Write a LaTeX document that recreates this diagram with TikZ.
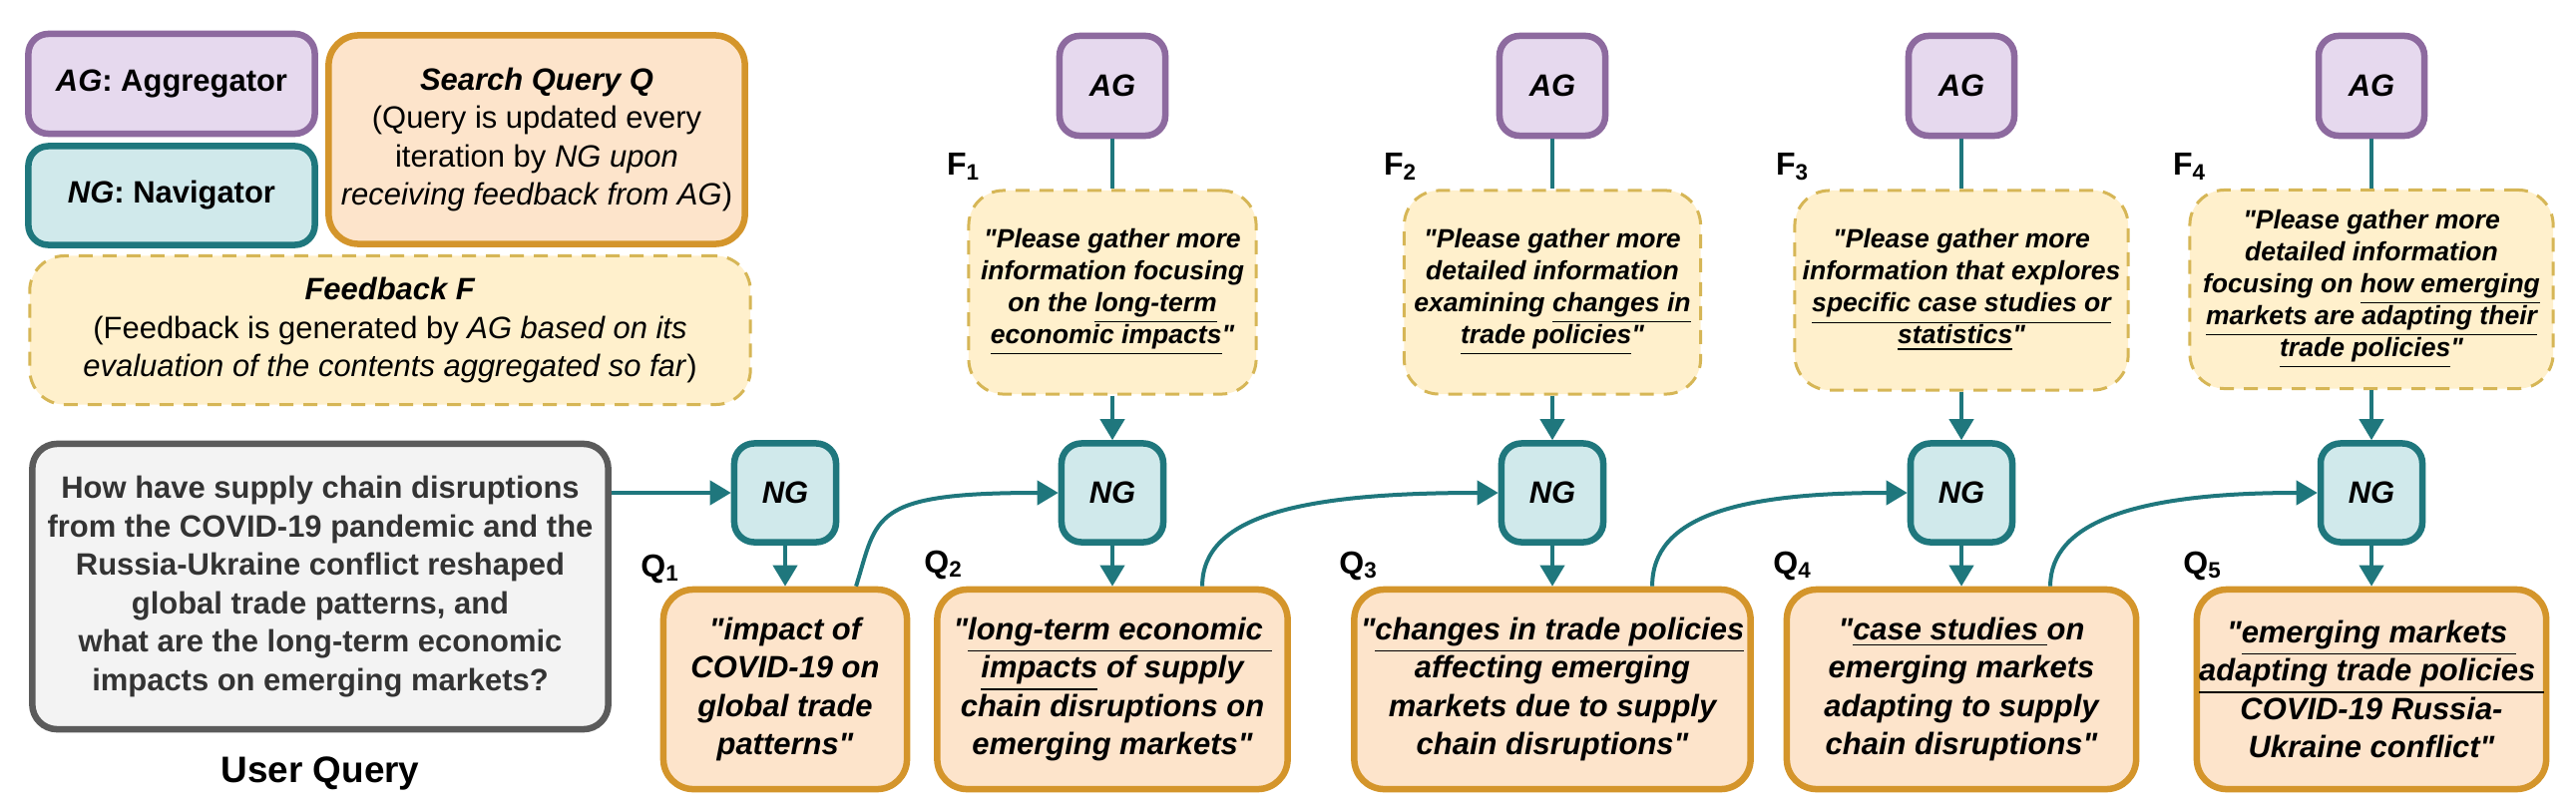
\documentclass[tikz,border=0pt]{standalone}
\usepackage{fontspec}
\setmainfont{Liberation Sans}[Ligatures=TeXOff]
\usetikzlibrary{calc,shapes,arrows.meta}

\definecolor{agfill}{HTML}{E6D9EE}
\definecolor{agdraw}{HTML}{8D6A9F}
\definecolor{ngfill}{HTML}{D0E9EB}
\definecolor{ngdraw}{HTML}{1F777D}
\definecolor{qfill}{HTML}{FDE4CB}
\definecolor{qdraw}{HTML}{D4952B}
\definecolor{ffill}{HTML}{FFF0CC}
\definecolor{fdraw}{HTML}{D6B656}
\definecolor{ufill}{HTML}{F3F3F3}
\definecolor{udraw}{HTML}{5B5B5B}
\definecolor{utext}{HTML}{333333}

\newcommand{\legfont}{\fontsize{8.8pt}{10.95pt}\selectfont}
\newcommand{\qryfont}{\fontsize{8.8pt}{10.95pt}\selectfont\bfseries\itshape}
\newcommand{\fbkfont}{\fontsize{7.55pt}{9.1pt}\selectfont\bfseries\itshape}
\newcommand{\idxfont}{\fontsize{9.1pt}{9.1pt}\selectfont\bfseries}

\begin{document}
\begin{tikzpicture}[x=0.01cm,y=-0.01cm]
	\tikzstyle{aggregator} = [rectangle, draw=agdraw, fill=agfill, line width=0.065cm, rounded corners=0.2cm, text centered, inner sep=0pt, minimum width=1.06cm, minimum height=1.0cm, font=\legfont\bfseries]
	\tikzstyle{navigator} = [rectangle, draw=ngdraw, fill=ngfill, line width=0.065cm, rounded corners=0.2cm, text centered, inner sep=0pt, minimum width=1.02cm, minimum height=0.99cm, font=\legfont\bfseries]
	\tikzstyle{query} = [rectangle, draw=qdraw, fill=qfill, line width=0.065cm, rounded corners=0.3cm, align=center, inner sep=0pt, minimum height=2.0cm, font=\qryfont]
	\tikzstyle{feedback} = [rectangle, draw=fdraw, fill=ffill, line width=0.03cm, dash pattern=on 0.14cm off 0.1cm, rounded corners=0.35cm, align=center, inner sep=0pt, minimum height=2.04cm, font=\fbkfont]
	\tikzstyle{user} = [rectangle, draw=udraw, fill=ufill, text=utext, line width=0.065cm, rounded corners=0.25cm, align=center, inner sep=0pt, minimum width=5.77cm, minimum height=2.86cm, font=\legfont\bfseries]
	\tikzstyle{idx} = [inner sep=0pt, font=\idxfont]
	\tikzstyle{connector} = [draw=ngdraw, line width=0.04cm, -{Triangle[length=0.21cm,width=0.24cm]}]
	\tikzstyle{plainline} = [draw=ngdraw, line width=0.04cm]
\useasboundingbox (0,0) rectangle (2582,812);
% legend
\node [aggregator, minimum width=2.87cm, minimum height=1.0cm] at (172,84) (agkey) {\textit{AG}: Aggregator};
\node [navigator, minimum width=2.87cm, minimum height=0.99cm] at (172,196) (ngkey) {\textit{NG}: Navigator};
\node [query, font=\legfont, minimum width=4.17cm, minimum height=2.09cm] at (538,140) (sqkey) {\textbf{\textit{Search Query Q}}\\(Query is updated every\\iteration by \textit{NG upon}\\\textit{receiving feedback from AG})};
\node [feedback, font=\legfont, minimum width=7.22cm, minimum height=1.49cm] at (391,331) (fbkey) {\textbf{\textit{Feedback F}}\\(Feedback is generated by \textit{AG based on its}\\\textit{evaluation of the contents aggregated so far})};
% user query
\node [user] at (321,588) (uq) {How have supply chain disruptions\\from the COVID-19 pandemic and the\\Russia-Ukraine conflict reshaped\\global trade patterns, and\\what are the long-term economic\\impacts on emerging markets?};
\node [inner sep=0pt, font=\fontsize{10.5pt}{10.5pt}\selectfont\bfseries] at (321,775) (uqlab) {User Query};
% aggregators
\node [aggregator] at (1115,86) (ag1) {\textit{AG}};
\node [aggregator] at (1556,86) (ag2) {\textit{AG}};
\node [aggregator] at (1966,86) (ag3) {\textit{AG}};
\node [aggregator] at (2377,86) (ag4) {\textit{AG}};
% feedback
\node [feedback, minimum width=2.88cm] at (1115,293) (f1) {"Please gather more\\information focusing\\on the \underline{long-term}\\\underline{economic impacts}"};
\node [feedback, minimum width=2.97cm] at (1556,293) (f2) {"Please gather more\\detailed information\\examining \underline{changes in}\\\underline{trade policies}"};
\node [feedback, minimum width=3.34cm, minimum height=2.0cm] at (1966,291) (f3) {"Please gather more\\information that explores\\\underline{specific case studies or}\\\underline{statistics}"};
\node [feedback, minimum width=3.64cm, minimum height=1.99cm] at (2377,290) (f4) {"Please gather more\\detailed information\\focusing on \underline{how emerging}\\\underline{markets are adapting their}\\\underline{trade policies}"};
\node [idx] at (966,167) (f1lab) {F\textsubscript{1}};
\node [idx] at (1404,167) (f2lab) {F\textsubscript{2}};
\node [idx] at (1797,167) (f3lab) {F\textsubscript{3}};
\node [idx] at (2195,167) (f4lab) {F\textsubscript{4}};
% navigators
\node [navigator] at (787,494) (ng1) {\textit{NG}};
\node [navigator] at (1115,494) (ng2) {\textit{NG}};
\node [navigator] at (1556,494) (ng3) {\textit{NG}};
\node [navigator] at (1966,494) (ng4) {\textit{NG}};
\node [navigator] at (2377,494) (ng5) {\textit{NG}};
% search queries
\node [query, minimum width=2.44cm] at (787,691) (q1) {"impact of\\COVID-19 on\\global trade\\patterns"};
\node [query, minimum width=3.51cm] at (1115,691) (q2) {"\underline{long-term economic }\\\underline{impacts} of supply\\chain disruptions on\\emerging markets"};
\node [query, minimum width=3.97cm] at (1556,691) (q3) {"\underline{changes in trade policies}\\affecting emerging\\markets due to supply\\chain disruptions"};
\node [query, minimum width=3.50cm] at (1966,691) (q4) {"\underline{case studies }on\\emerging markets\\adapting to supply\\chain disruptions"};
\node [query, minimum width=3.50cm] at (2377,691) (q5) {"\underline{emerging markets }\\\underline{adapting trade policies }\\COVID-19 Russia-\\Ukraine conflict"};
\node [idx] at (662,570) (q1lab) {Q\textsubscript{1}};
\node [idx] at (946,566) (q2lab) {Q\textsubscript{2}};
\node [idx] at (1362,567) (q3lab) {Q\textsubscript{3}};
\node [idx] at (1797,567) (q4lab) {Q\textsubscript{4}};
\node [idx] at (2208,567) (q5lab) {Q\textsubscript{5}};
% connectors
\path [connector] (uq.east |- ng1.west) -- (ng1.west);
\path [connector] (ng1) -- (q1);
\path [connector] (ng2) -- (q2);
\path [connector] (ng3) -- (q3);
\path [connector] (ng4) -- (q4);
\path [connector] (ng5) -- (q5);
\path [plainline] (ag1) -- (f1);
\path [plainline] (ag2) -- (f2);
\path [plainline] (ag3) -- (f3);
\path [plainline] (ag4) -- (f4);
\path [connector] (f1) -- (ng2);
\path [connector] (f2) -- (ng3);
\path [connector] (f3) -- (ng4);
\path [connector] (f4) -- (ng5);
\path [connector] ([xshift=0.71cm]q1.north) .. controls ($(q1.north)+(93,-70)$) and ($(ng2.west)+(-190,0)$) .. (ng2.west);
\path [connector] ([xshift=0.9cm]q2.north) .. controls ($(q2.north)+(90,-70)$) and ($(ng3.west)+(-200,0)$) .. (ng3.west);
\path [connector] ([xshift=1.0cm]q3.north) .. controls ($(q3.north)+(100,-70)$) and ($(ng4.west)+(-170,0)$) .. (ng4.west);
\path [connector] ([xshift=0.89cm]q4.north) .. controls ($(q4.north)+(89,-65)$) and ($(ng5.west)+(-180,0)$) .. (ng5.west);
\end{tikzpicture}
\end{document}
